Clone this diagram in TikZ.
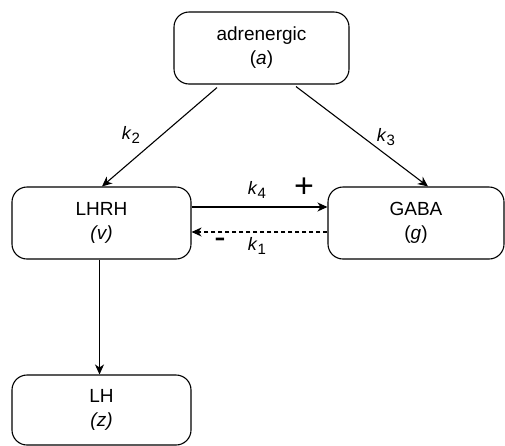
\documentclass[tikz,border=0pt]{standalone}
\usepackage{fontspec}
\setmainfont{Liberation Sans}
\usetikzlibrary{arrows.meta}
% rate constant: italic k with a lowered index
\newcommand{\rate}[1]{\textit{k}\raisebox{-4.5pt}{\fontsize{15}{15}\selectfont #1}}
\begin{document}
\begin{tikzpicture}[x=1pt,y=1pt,
  box/.style={draw, line width=1.1pt, rounded corners=15pt, align=center,
    inner sep=0pt, font=\fontsize{19}{24}\selectfont},
  link/.style={line width=1.1pt, -{Stealth[length=10pt,width=9pt,inset=3pt]}},
  lbl/.style={font=\fontsize{18}{20}\selectfont, inner sep=0pt}]
\useasboundingbox (0,0) rectangle (505,-445);

% compartments
\node[box, minimum width=175pt, minimum height=72pt] (adr) at (261.5,-48) {adrenergic\\(\textit{a})};
\node[box, minimum width=179pt, minimum height=72pt] (lhrh) at (101.5,-223) {LHRH\\\textit{(v)}};
\node[box, minimum width=176pt, minimum height=72pt] (gaba) at (416,-223) {GABA\\(\textit{g})};
\node[box, minimum width=179pt, minimum height=70pt] (lh) at (101.5,-410) {LH\\\textit{(z)}};

% couplings
\draw[link] ([xshift=-44.5pt,yshift=-3pt]adr.south) -- ([xshift=0.5pt]lhrh.north);
\draw[link] ([xshift=34.5pt,yshift=-2pt]adr.south) -- ([xshift=12pt]gaba.north);
\draw[link] ([yshift=16pt]lhrh.east) -- ([yshift=16pt]gaba.west);
\draw[link, dashed, dash pattern=on 4pt off 3pt] ([yshift=-9pt]gaba.west) -- ([yshift=-9pt]lhrh.east);
\draw[link] ([xshift=-2pt]lhrh.south) -- ([xshift=-2pt]lh.north);

% rate labels
\node[lbl] (k2) at (131,-135) {\rate{2}};
\node[lbl] (k3) at (386,-137) {\rate{3}};
\node[lbl] (k4) at (257,-190) {\rate{4}};
\node[lbl] (k1) at (257,-246) {\rate{1}};
\node[lbl, font=\fontsize{34}{34}\selectfont] (plus) at (304,-188) {+};
\node[lbl, font=\fontsize{34}{34}\selectfont] (minus) at (220,-243) {-};
\end{tikzpicture}
\end{document}
